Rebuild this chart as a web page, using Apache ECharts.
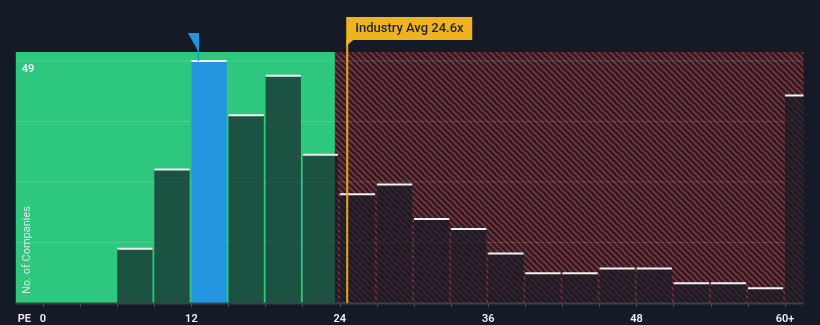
<!DOCTYPE html>
<html>
<head>
<meta charset="utf-8">
<script src="https://cdn.jsdelivr.net/npm/echarts@6/dist/echarts.min.js"></script>
<style>
  html, body { margin: 0; padding: 0; background: #151b26; }
  #chart { width: 820px; height: 325px; }
</style>
</head>
<body>
<div id="chart"></div>
<script>
// PE ratio distribution: bins of width 3 (last bin is 60+)
const binStarts = [6, 9, 12, 15, 18, 21, 24, 27, 30, 33, 36, 39, 42, 45, 48, 51, 54, 57, 60];
const companyCounts = [11, 27, 49, 38, 46, 30, 22, 24, 17, 15, 10, 6, 6, 7, 7, 4, 4, 3, 42];
const binWidth = 3;
const highlightBin = 12;          // bin holding the company
const companyPE = 12.6;           // company's own PE
const industryAvg = 24.6;         // industry average PE
const fairZoneEnd = 23.6;         // end of the green zone
const plotRangeX = [-2.2, 61.5];  // full drawn extent of the plot band
const yMax = 50.8;
const gridValues = [12.25, 24.5, 36.75, 49];
const peakLabel = '49';
const xTickLabels = { 0: '0', 12: '12', 24: '24', 36: '36', 48: '48', 60: '60+' };

const FONT = 'Roboto, "Noto Sans", sans-serif';

function makeHatch() {
  const s = 6;
  const c = document.createElement('canvas');
  c.width = s; c.height = s;
  const ctx = c.getContext('2d');
  ctx.fillStyle = '#1f1c26';
  ctx.fillRect(0, 0, s, s);
  ctx.strokeStyle = '#822c37';
  ctx.lineWidth = 2.2;
  ctx.beginPath();
  for (let k = -1; k <= 1; k++) {
    ctx.moveTo(-1, -1 + k * s);
    ctx.lineTo(s + 1, s + 1 + k * s);
  }
  ctx.stroke();
  return c;
}
const hatch = makeHatch();

const chart = echarts.init(document.getElementById('chart'), null, { renderer: 'canvas' });

function renderBackground(params, api) {
  const tl = api.coord([plotRangeX[0], yMax]);
  const br = api.coord([plotRangeX[1], 0]);
  const gz = api.coord([fairZoneEnd, 0]);
  const children = [
    { type: 'rect', shape: { x: gz[0], y: tl[1], width: br[0] - gz[0], height: br[1] - tl[1] },
      style: { fill: { image: hatch, repeat: 'repeat' } } },
    { type: 'rect', shape: { x: tl[0], y: tl[1], width: gz[0] - tl[0], height: br[1] - tl[1] },
      style: { fill: '#2dc87e' } }
  ];
  gridValues.forEach(v => {
    const p = api.coord([0, v]);
    children.push({ type: 'line', shape: { x1: tl[0], y1: p[1], x2: br[0], y2: p[1] },
      style: { stroke: 'rgba(255,255,255,0.13)', lineWidth: 1 } });
  });
  return { type: 'group', children };
}

function renderBars(params, api) {
  const start = api.value(0);
  const count = api.value(1);
  const end = Math.min(start + binWidth, plotRangeX[1]);
  const p0 = api.coord([start, count]);
  const p1 = api.coord([end, 0]);
  const x = p0[0];
  const w = (end >= plotRangeX[1] ? p1[0] - p0[0] : p1[0] - p0[0] - 1.8);
  const isHi = start === highlightBin;
  return {
    type: 'group',
    children: [
      { type: 'rect', shape: { x, y: p0[1], width: w, height: p1[1] - p0[1] },
        style: { fill: isHi ? '#2394e0' : 'rgba(21,27,38,0.68)' } },
      { type: 'rect', shape: { x, y: p0[1] - 1, width: w, height: 2 },
        style: { fill: '#f2f2f2' } }
    ]
  };
}

function renderAnnotations(params, api) {
  const top = api.coord([0, yMax])[1];
  const base = api.coord([0, 0])[1];
  const left = api.coord([plotRangeX[0], 0])[0];
  const right = api.coord([plotRangeX[1], 0])[0];
  const avg = api.coord([industryAvg, 0])[0];
  const hiIdx = binStarts.indexOf(highlightBin);
  const hiTop = api.coord([companyPE, companyCounts[hiIdx]]);
  const boxTop = top - 35, boxH = 23, boxW = 126;
  return {
    type: 'group',
    children: [
      // x axis baseline
      { type: 'line', shape: { x1: left, y1: base + 0.5, x2: right, y2: base + 0.5 },
        style: { stroke: '#3b414b', lineWidth: 2 } },
      // industry average line and tag
      { type: 'line', shape: { x1: avg, y1: boxTop + boxH, x2: avg, y2: base },
        style: { stroke: '#e5a81e', lineWidth: 2 } },
      { type: 'polygon', shape: { points: [[avg - 1, boxTop], [avg - 1 + boxW, boxTop], [avg - 1 + boxW, boxTop + boxH],
          [avg + 6, boxTop + boxH], [avg - 1, boxTop + boxH + 6]] },
        style: { fill: '#efb31f' } },
      { type: 'text', style: { x: avg + 8, y: boxTop + boxH / 2 + 0.5, text: 'Industry Avg ' + industryAvg + 'x',
          fill: '#1b2230', font: '500 13px ' + FONT, textVerticalAlign: 'middle', textAlign: 'left' } },
      // company marker
      { type: 'polygon', shape: { points: [[hiTop[0] - 11, top - 19], [hiTop[0], top - 19], [hiTop[0], top]] },
        style: { fill: '#2394e0' } },
      { type: 'line', shape: { x1: hiTop[0] - 0.5, y1: top - 19, x2: hiTop[0] - 0.5, y2: hiTop[1] },
        style: { stroke: '#2394e0', lineWidth: 1.5 } },
      // peak value label
      { type: 'text', style: { x: left + 6, y: api.coord([0, gridValues[3]])[1] + 3, text: peakLabel,
          fill: '#f4f4f4', font: '600 11px ' + FONT, textVerticalAlign: 'top' } },
      // axis titles
      { type: 'text', style: { x: left + 2, y: base + 16.5, text: 'PE',
          fill: '#f0f0f0', font: '600 11px ' + FONT, textVerticalAlign: 'middle' } },
      { type: 'text', x: left + 11.5, y: base - 53, rotation: Math.PI / 2,
        style: { x: 0, y: 0, text: 'No. of Companies', fill: '#e6e6e6', font: '11px ' + FONT,
          textAlign: 'center', textVerticalAlign: 'middle' } }
    ]
  };
}

chart.setOption({
  backgroundColor: '#151b26',
  animation: false,
  grid: { left: 43, right: 35, top: 52, bottom: 21 },
  xAxis: {
    type: 'value', min: 0, max: 60, interval: 3,
    axisLine: { show: false },
    axisTick: { show: true, length: 4, lineStyle: { color: '#4a505a', width: 1 } },
    splitLine: { show: false },
    axisLabel: {
      color: '#f0f0f0', fontSize: 11, fontWeight: 600, fontFamily: FONT, margin: 11,
      formatter: v => (xTickLabels[v] !== undefined ? xTickLabels[v] : '')
    }
  },
  yAxis: { type: 'value', min: 0, max: yMax, show: false, splitLine: { show: false } },
  series: [
    { type: 'custom', z: 1, clip: false, silent: true, renderItem: renderBackground, data: [[0, 0]] },
    { type: 'custom', z: 2, clip: false, silent: true, renderItem: renderBars,
      encode: { x: 0, y: 1 },
      data: binStarts.map((s, i) => [s, companyCounts[i]]) },
    { type: 'custom', z: 3, clip: false, silent: true, renderItem: renderAnnotations, data: [[0, 0]] }
  ]
});
</script>
</body>
</html>
